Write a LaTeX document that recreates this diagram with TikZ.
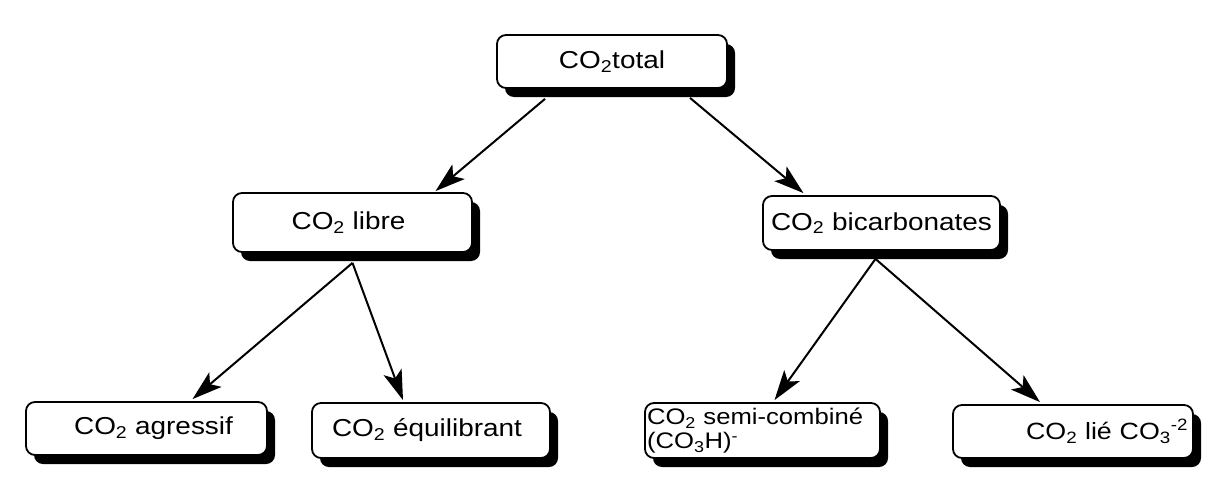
\documentclass[tikz,border=0pt]{standalone}
\usepackage{fontspec}
\setmainfont{Liberation Sans}[FakeStretch=1.14]
\usetikzlibrary{shadows,arrows.meta}
\tikzset{
  box/.style={draw=black, line width=1.8pt, fill=white, rounded corners=9pt,
    inner sep=4pt, font=\fontsize{24.5}{27}\selectfont,
    general shadow={fill=black, shadow xshift=8pt, shadow yshift=-9pt}},
  arr/.style={line width=2pt, -{Stealth[length=30pt,width=19pt,inset=7pt]}}
}
\newcommand{\sub}[1]{\textsubscript{#1}}
\newcommand{\sups}[1]{\textsuperscript{#1}}
\begin{document}
\begin{tikzpicture}[x=1pt,y=1pt]
\useasboundingbox[fill=white] (0,0) rectangle (1208,-490);
\node[box, minimum width=230pt, minimum height=53pt] (n1) at (612,-61.5) {CO\sub{2}total};
\node[box, minimum width=239pt, minimum height=59pt] (n2) at (352.5,-222.5) {CO\sub{2} libre\hspace*{8pt}};
\node[box, minimum width=237pt, minimum height=54pt] (n3) at (881.5,-223) {CO\sub{2} bicarbonates};
\node[box, minimum width=241pt, minimum height=53pt] (n4) at (146.5,-428.5) {\hspace*{14pt}CO\sub{2} agressif};
\node[box, minimum width=238pt, minimum height=55pt] (n5) at (431,-430.5) {CO\sub{2} équilibrant\hspace*{8pt}};
\node[box, minimum width=235pt, minimum height=55pt, text width=231pt, align=left, inner sep=1pt,
      font=\fontsize{22.5}{24.5}\selectfont] (n6) at (762.5,-430.5) {\mbox{CO\sub{2} semi-combiné}\\(CO\sub{3}H)\sups{-}};
\node[box, minimum width=240pt, minimum height=53pt, text width=230pt, align=right, inner sep=1pt,
      font=\fontsize{23.5}{27}\selectfont] (n7) at (1073,-431.5) {CO\sub{2} lié CO\sub{3}\sups{-2}};
\draw[arr] ([xshift=-67pt,yshift=-10pt]n1.south) -- ([xshift=83pt,yshift=1pt]n2.north);
\draw[arr] ([xshift=78pt,yshift=-9pt]n1.south) -- ([xshift=-78pt,yshift=2pt]n3.north);
\draw[arr] ([yshift=-10pt]n2.south) -- ([xshift=46pt,yshift=2pt]n4.north);
\draw[arr] ([yshift=-10pt]n2.south) -- ([xshift=-28pt,yshift=2pt]n5.north);
\draw[arr] ([xshift=-6pt,yshift=-8pt]n3.south) -- ([xshift=12pt,yshift=2pt]n6.north);
\draw[arr] ([xshift=-6pt,yshift=-8pt]n3.south) -- ([xshift=-33pt,yshift=2pt]n7.north);
\end{tikzpicture}
\end{document}
